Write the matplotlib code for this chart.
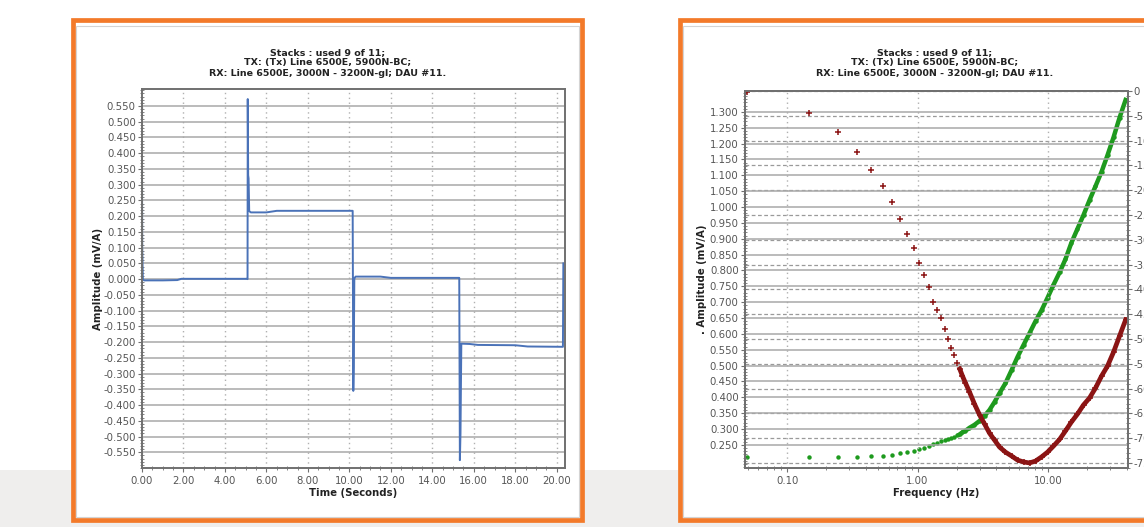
import matplotlib.pyplot as plt
from matplotlib.patches import Rectangle
from matplotlib.ticker import MultipleLocator, AutoMinorLocator, FixedLocator, FuncFormatter, LogLocator, NullFormatter

# time-domain stack (one full cycle)
time_s = [0.00, 0.01, 0.04, 0.10, 1.00, 1.70, 1.90, 3.00, 5.07, 5.09, 5.10, 5.12, 5.14, 5.17, 5.25,
          6.00, 6.50, 8.00, 10.16, 10.19, 10.21, 10.24, 10.30, 11.50, 12.00, 15.30, 15.33, 15.36,
          15.40, 15.80, 16.20, 18.00, 18.60, 20.30, 20.32]
amp_time = [0.355, 0.100, 0.000, -0.004, -0.004, -0.003, 0.001, 0.001, 0.001, 0.000, 0.572, 0.330,
            0.320, 0.216, 0.212, 0.212, 0.217, 0.217, 0.217, -0.355, -0.280, 0.002, 0.008, 0.008,
            0.004, 0.004, -0.575, -0.490, -0.205, -0.206, -0.209, -0.210, -0.214, -0.215, 0.050]

# spectrum: odd harmonics at the low end, then the dense band
freq_hz = [0.049, 0.147, 0.245, 0.343, 0.441, 0.539, 0.637, 0.735, 0.833, 0.931, 1.029, 1.127,
           1.225, 1.323, 1.421, 1.519, 1.617, 1.715, 1.813, 1.911, 2.009, 2.107,
           2.21, 2.33, 2.50, 2.73, 2.99, 3.26, 3.56, 3.89, 4.25, 4.72, 5.25, 5.84, 6.49, 7.22,
           8.02, 8.92, 9.91, 11.0, 12.3, 13.6, 15.1, 16.8, 18.7, 20.8, 23.1, 25.7, 28.6, 31.8,
           35.3, 39.3]
amplitude = [1.363, 1.297, 1.237, 1.174, 1.117, 1.067, 1.016, 0.962, 0.915, 0.871, 0.824, 0.786,
             0.748, 0.701, 0.675, 0.650, 0.615, 0.584, 0.556, 0.533, 0.508, 0.489,
             0.467, 0.445, 0.417, 0.379, 0.344, 0.316, 0.287, 0.265, 0.243, 0.227, 0.215, 0.202,
             0.196, 0.193, 0.199, 0.212, 0.227, 0.246, 0.268, 0.294, 0.322, 0.347, 0.376, 0.398,
             0.429, 0.467, 0.499, 0.543, 0.593, 0.644]
phase = [-73.8, -73.8, -73.8, -73.8, -73.6, -73.6, -73.4, -73.0, -72.8, -72.6, -72.2, -72.0,
         -71.6, -71.2, -71.0, -70.6, -70.4, -70.2, -70.0, -69.8, -69.4, -69.2,
         -68.8, -68.5, -67.9, -67.3, -66.5, -65.5, -64.3, -62.7, -60.9, -58.9, -56.3, -53.6,
         -51.2, -48.8, -46.4, -44.2, -41.7, -39.1, -36.5, -33.9, -30.6, -27.8, -25.0, -22.0,
         -19.2, -16.3, -12.9, -9.3, -5.4, -1.8]
dense_from = 22

title = "Stacks : used 9 of 11;\nTX: (Tx) Line 6500E, 5900N-BC;\nRX: Line 6500E, 3000N - 3200N-gl; DAU #11."

W, H = 1144, 527
fig = plt.figure(figsize=(W / 100, H / 100), dpi=100)


def fx(px):
    return px / W


def fy(py):
    return 1 - py / H


# page background and the two framed panels
fig.patches.append(Rectangle((0, 0), 1, fy(470), transform=fig.transFigure,
                             facecolor="#efeeed", edgecolor="none", zorder=-20))
for left, right in [(73, 582), (680, 1189)]:
    fig.patches.append(Rectangle((fx(left), fy(520)), fx(right - left), (520 - 20) / H,
                                 transform=fig.transFigure, facecolor="white",
                                 edgecolor="#f37a2a", lw=3.4, zorder=-15))
    fig.patches.append(Rectangle((fx(left + 3), fy(517)), fx(right - left - 6), (514 - 23) / H,
                                 transform=fig.transFigure, facecolor="none",
                                 edgecolor="#d4d4d4", lw=0.8, zorder=-14))
    fig.text(fx((left + right) / 2), fy(63), title, ha="center", va="center",
             fontsize=6.8, fontweight="bold", color="#222222", linespacing=1.2)

tick_color = "#555555"
spine_color = "#707070"


def style_axes(ax):
    for sp in ax.spines.values():
        sp.set_color(spine_color)
        sp.set_linewidth(1.4)
    ax.tick_params(which="major", labelsize=7.3, labelcolor=tick_color, color=spine_color,
                   length=3, width=0.8, direction="out", pad=1.5)
    ax.tick_params(which="minor", color=spine_color, length=2.5, width=0.6, direction="inout")


# time series panel
ax1 = fig.add_axes([fx(142), fy(468), fx(565 - 142), (468 - 89) / H])
ax1.plot(time_s, amp_time, color="#4a72b8", lw=1.4)
ax1.set_xlim(0, 20.4)
ax1.set_ylim(-0.60, 0.604)
ax1.yaxis.set_minor_locator(AutoMinorLocator(5))
ax1.xaxis.set_major_locator(MultipleLocator(2))
ax1.xaxis.set_minor_locator(AutoMinorLocator(4))
ax1.yaxis.set_major_formatter(FuncFormatter(lambda v, p: f"{v:.3f}"))
ax1.xaxis.set_major_formatter(FuncFormatter(lambda v, p: f"{v:.2f}"))
ax1.set_yticks([round(-0.55 + 0.05 * i, 3) for i in range(23)])
ax1.grid(axis="y", color="#a8a8a8", lw=1.1)
ax1.grid(axis="x", color="#b0b0b0", lw=1.0, ls=(0, (1, 2.5)))
ax1.set_axisbelow(True)
style_axes(ax1)
ax1.tick_params(axis="x", pad=2.5)
ax1.set_xlabel("Time (Seconds)", fontsize=7.3, fontweight="bold", color="#222222")
ax1.set_ylabel("Amplitude (mV/A)", fontsize=7.3, fontweight="bold", color="#222222")
ax1.xaxis.set_label_coords(0.5, -0.053)
ax1.yaxis.set_label_coords(-0.092, 0.5)

# spectrum panel
ax2 = fig.add_axes([fx(745), fy(468), fx(1128 - 745), (468 - 91) / H])
ax3 = ax2.twinx()
ax2.set_xscale("log")
ax2.set_xlim(0.0476, 41)
ax2.set_ylim(0.177, 1.366)
ax3.set_ylim(-76, 0)
ax2.set_yticks([round(0.25 + 0.05 * i, 3) for i in range(22)])
ax2.yaxis.set_minor_locator(AutoMinorLocator(5))
ax2.yaxis.set_major_formatter(FuncFormatter(lambda v, p: f"{v:.3f}"))
ax2.xaxis.set_major_locator(FixedLocator([0.1, 1, 10]))
ax2.xaxis.set_major_formatter(FuncFormatter(lambda v, p: f"{v:.2f}"))
ax2.xaxis.set_minor_locator(LogLocator(base=10, subs=range(2, 10)))
ax2.xaxis.set_minor_formatter(NullFormatter())
ax3.set_yticks(list(range(-75, 1, 5)))
ax3.yaxis.set_major_formatter(FuncFormatter(lambda v, p: f"{int(round(v))}".replace("\u2212", "-")))
ax3.yaxis.set_minor_locator(AutoMinorLocator(5))
ax2.grid(axis="y", color="#a8a8a8", lw=1.1)
ax2.grid(axis="x", which="major", color="#b0b0b0", lw=1.0, ls=(0, (1, 2.5)))
ax3.grid(axis="y", color="#9a9a9a", lw=0.9, ls=(0, (3, 2)))
ax2.set_axisbelow(True)
ax3.set_axisbelow(True)
style_axes(ax2)
style_axes(ax3)
ax2.tick_params(axis="x", pad=2.5)
ax3.tick_params(axis="y", pad=1)

ax3.plot(freq_hz, phase, ls="none", marker="o", ms=3.2, color="#1e9a1e", mew=0)
ax3.plot(freq_hz[dense_from - 1:], phase[dense_from - 1:], color="#1e9a1e", lw=3.2)
ax2.plot(freq_hz, amplitude, ls="none", marker="+", ms=4, mew=1.1, color="#8b1414")
ax2.plot(freq_hz[dense_from - 1:], amplitude[dense_from - 1:], color="#8b1414", lw=3.4)
ax2.set_zorder(ax3.get_zorder() + 1)
ax2.patch.set_visible(False)
ax3.patch.set_visible(False)

ax2.set_xlabel("Frequency (Hz)", fontsize=7.3, fontweight="bold", color="#222222")
ax2.set_ylabel(". Amplitude (mV/A)", fontsize=7.3, fontweight="bold", color="#222222")
ax2.xaxis.set_label_coords(0.5, -0.053)
ax2.yaxis.set_label_coords(-0.099, 0.5)

fig.savefig("out.png", dpi=100)
